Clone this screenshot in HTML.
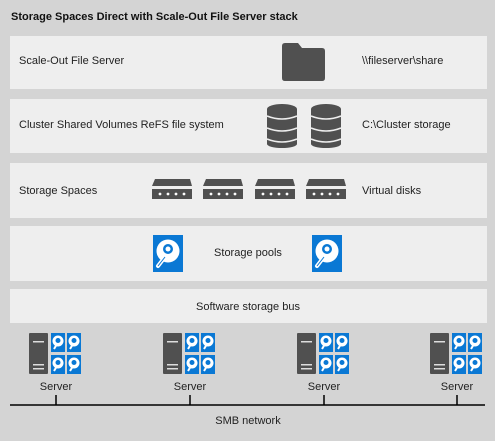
<!DOCTYPE html>
<html><head><meta charset="utf-8"><style>
html,body{margin:0;padding:0;background:#d4d4d4;}
svg{display:block;font-family:"Liberation Sans",sans-serif;}
</style></head><body>
<svg width="495" height="441" viewBox="0 0 495 441" xmlns="http://www.w3.org/2000/svg">
<defs>
<g id="dev">
<polygon points="3,0 38,0 40,7 0,7" fill="#505050"/>
<rect x="0" y="10" width="40" height="10" fill="#505050"/>
<circle cx="8" cy="15" r="1.4" fill="#fff"/><circle cx="16" cy="15" r="1.4" fill="#fff"/><circle cx="24" cy="15" r="1.4" fill="#fff"/><circle cx="32" cy="15" r="1.4" fill="#fff"/>
</g>
<g id="db">
<rect x="0" y="5" width="30" height="35" fill="#505050"/>
<ellipse cx="15" cy="40" rx="15" ry="4" fill="#505050"/>
<ellipse cx="15" cy="5" rx="15" ry="5" fill="#505050"/>
<path d="M0,12 Q15,18 30,12" stroke="#eee" stroke-width="1.5" fill="none"/>
<path d="M0,24 Q15,30 30,24" stroke="#eee" stroke-width="1.5" fill="none"/>
<path d="M0,35 Q15,41 30,35" stroke="#eee" stroke-width="1.5" fill="none"/>
</g>
<g id="disk">
<rect x="0" y="0" width="30" height="37" fill="#0a78d4"/>
<circle cx="15" cy="16" r="11.5" fill="#fff"/>
<circle cx="15" cy="14" r="5" fill="#0a78d4"/>
<circle cx="15" cy="14" r="2.5" fill="#fff"/>
<line x1="5" y1="31" x2="12" y2="22" stroke="#fff" stroke-width="4" stroke-linecap="round"/>
<line x1="5" y1="31" x2="12" y2="22" stroke="#0a78d4" stroke-width="1"/>
</g>
<g id="sdisk">
<rect x="0" y="0" width="14" height="19" fill="#0a78d4"/>
<circle cx="7" cy="8" r="5.5" fill="#fff"/>
<circle cx="7" cy="7.5" r="2.5" fill="#0a78d4"/>
<line x1="3" y1="16" x2="6" y2="11" stroke="#fff" stroke-width="2"/>
</g>
<g id="srv">
<rect x="0" y="0" width="19" height="41" rx="1" fill="#505050"/>
<rect x="4" y="8" width="11" height="1.5" fill="#ddd"/>
<rect x="4" y="31" width="11" height="1.5" fill="#ddd"/>
<rect x="4" y="35" width="11" height="1.5" fill="#ddd"/>
<use href="#sdisk" x="22" y="0"/><use href="#sdisk" x="38" y="0"/>
<use href="#sdisk" x="22" y="22"/><use href="#sdisk" x="38" y="22"/>
<text x="27" y="57" font-size="11" fill="#222" text-anchor="middle">Server</text>
<line x1="27" y1="62" x2="27" y2="72" stroke="#000" stroke-width="1.5"/>
</g>
</defs>
<rect width="495" height="441" fill="#d4d4d4"/>
<text x="11" y="20" font-size="11" font-weight="bold" fill="#111">Storage Spaces Direct with Scale-Out File Server stack</text>
<g fill="#eeeeee">
<rect x="10" y="36" width="477" height="53"/>
<rect x="10" y="99" width="477" height="54"/>
<rect x="10" y="163" width="477" height="55"/>
<rect x="10" y="226" width="477" height="55"/>
<rect x="10" y="289" width="477" height="34"/>
</g>
<g font-size="11" fill="#222">
<text x="19" y="64">Scale-Out File Server</text>
<text x="362" y="64">\\fileserver\share</text>
<text x="19" y="128">Cluster Shared Volumes ReFS file system</text>
<text x="362" y="128">C:\Cluster storage</text>
<text x="19" y="194">Storage Spaces</text>
<text x="362" y="194">Virtual disks</text>
<text x="248" y="256" text-anchor="middle">Storage pools</text>
<text x="248" y="310" text-anchor="middle">Software storage bus</text>
<text x="248" y="424" text-anchor="middle">SMB network</text>
</g>
<path d="M282,46 Q282,43 285,43 L298,43 L302,48 L322,48 Q325,48 325,51 L325,78 Q325,81 322,81 L285,81 Q282,81 282,78 Z" fill="#505050"/>
<use href="#db" x="267" y="104"/><use href="#db" x="311" y="104"/>
<use href="#dev" x="152" y="179"/><use href="#dev" x="203" y="179"/><use href="#dev" x="255" y="179"/><use href="#dev" x="306" y="179"/>
<use href="#disk" x="153" y="235"/><use href="#disk" x="312" y="235"/>
<line x1="10" y1="405" x2="485" y2="405" stroke="#000" stroke-width="1.5"/>
<use href="#srv" x="29" y="333"/><use href="#srv" x="163" y="333"/><use href="#srv" x="297" y="333"/><use href="#srv" x="430" y="333"/>
</svg>
</body></html>
